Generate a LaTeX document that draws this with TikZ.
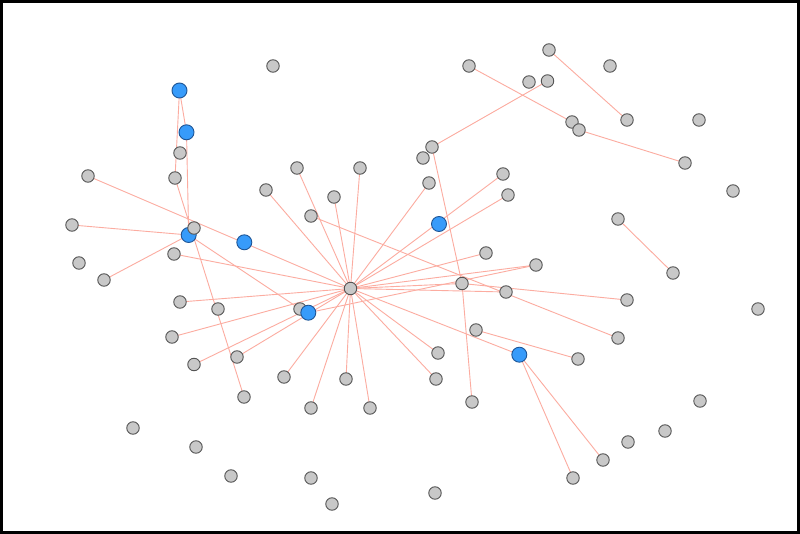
\documentclass[tikz,border=0pt]{standalone}
\usetikzlibrary{backgrounds}
\begin{document}
\begin{tikzpicture}[x=1pt,y=-1pt,
  gn/.style={circle,draw={rgb,255:red,85;green,85;blue,85},line width=0.9pt,fill={rgb,255:red,200;green,200;blue,200},minimum size=12.5pt,inner sep=0pt},
  bn/.style={circle,draw={rgb,255:red,30;green,85;blue,150},line width=0.9pt,fill={rgb,255:red,55;green,155;blue,250},minimum size=15pt,inner sep=0pt},
  ed/.style={draw={rgb,255:red,252;green,172;blue,160},line width=0.9pt}]
\useasboundingbox (0,0) rectangle (800,534);
% blue nodes under gray neighbours
\node[bn] (B1) at (179.5,90.5) {};
\node[bn] (B2) at (186.5,132.3) {};
\node[bn] (B3) at (188.7,235) {};
% gray nodes
\foreach \n/\x/\y in {a1/273/66,a2/180/153,a3/88/176,a4/175/178,a5/297/168,a6/360/168,a7/266/190,a8/334/197,a9/311/216,a10/72/225,a11/194/228,a12/174/254,a13/79/263,a14/104/280,hub/350.5/288.5,a15/180/302,a16/218/309,a17/300/309,a18/172/337,a19/194/364.5,a20/237/357,a21/284/377,a22/346/379,a23/244/397,a24/311/408,a25/370/408,a26/133/428,a27/196/447,a28/231/476,a29/311/478,a30/332/504,b1/549/50,b2/469/66,b3/610/66,b4/529/82,b5/547.5/81,b6/627/120,b7/699/120,b8/572/122,b9/579/130,b10/685/163,b11/432/147,b12/423/158,b13/733/191,b14/429/183,b15/503/174,b16/508/195,b17/618/219,b18/486/253,b19/536/265,c1/673/273,c2/462/283.5,c3/506/292,c4/627/300,c5/758/309,c6/476/330,c7/618/338,c8/578/359,c9/438/353,c10/436/379,c11/472/402,c12/700/401,c13/665/431,c14/628/442,c15/603/460,c16/573/478,c17/435/493}
  \node[gn] (\n) at (\x,\y) {};
\node[bn] (B4) at (244.3,242.3) {};
\node[bn] (B5) at (439,224) {};
\node[bn] (B6) at (308.3,312.7) {};
\node[bn] (B7) at (519.3,354.7) {};
% edges behind the nodes
\begin{scope}[on background layer]
\fill[white] (0,0) rectangle (800,534);
\foreach \t in {a5,a6,a8,a7,a3,a12,a15,a18,a19,a20,a21,a24,a22,a25,c10,c9,B7,c3,c2,b19,b18,b16,b15,b14}
  \draw[ed] (hub.center) -- (\t.center);
\draw[ed] (a9.center) -- (c7.center);
\draw[ed] (a4.center) -- (a23.center);
\draw[ed] (B1.center) -- (a4.center);
\draw[ed] (B1.center) -- (B2.center);
\draw[ed] (B2.center) -- (B3.center);
\draw[ed] (a10.center) -- (B3.center);
\draw[ed] (a14.center) -- (B3.center);
\draw[ed] (B3.center) -- (a17.center);
\draw[ed] (B6.center) -- (b19.center);
\draw[ed] (b11.center) -- (c2.center);
\draw[ed] (c2.center) -- (c11.center);
\draw[ed] (b11.center) -- (b5.center);
\draw[ed] (b2.center) -- (b8.center);
\draw[ed] (b9.center) -- (b10.center);
\draw[ed] (b1.center) -- (b6.center);
\draw[ed] (b17.center) -- (c1.center);
\draw[ed] (c6.center) -- (c8.center);
\draw[ed] (B7.center) -- (c15.center);
\draw[ed] (B7.center) -- (c16.center);
\draw[ed] (c2.center) -- (c4.center);
\end{scope}
% frame
\draw[line width=3.2pt] (1.6,1.6) rectangle (798.4,532.4);
\end{tikzpicture}
\end{document}
